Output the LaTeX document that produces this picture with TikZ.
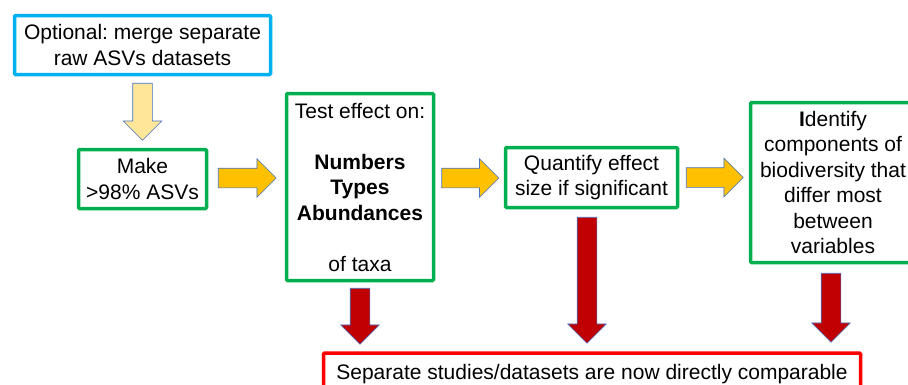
\documentclass[tikz,border=0pt]{standalone}
\usepackage{fontspec}
\setmainfont{Liberation Sans}
\usetikzlibrary{shapes.arrows}
\definecolor{cblue}{HTML}{00B0F0}
\definecolor{cgreen}{HTML}{00B050}
\definecolor{cred}{HTML}{FF0000}
\definecolor{corange}{HTML}{FFC000}
\definecolor{cyellow}{HTML}{FFE699}
\definecolor{cdred}{HTML}{C00000}
\definecolor{cedge}{HTML}{4472C4}
\frenchspacing
\begin{document}
\begin{tikzpicture}[x=1pt,y=-1pt,
  box/.style={draw, line width=3.5pt, rounded corners=1pt, align=center, inner sep=0pt,
    font=\fontsize{21}{25.5}\selectfont, text=black},
  bluebox/.style={box, draw=cblue},
  greenbox/.style={box, draw=cgreen},
  redbox/.style={box, draw=cred},
  blockarrow/.style={single arrow, draw=cedge, line width=0.6pt, minimum width=38pt,
    single arrow head extend=9.5pt, single arrow tip angle=90, inner xsep=0pt, inner ysep=9.5pt, outer sep=0pt},
  orarrow/.style={blockarrow, fill=corange},
  yarrow/.style={blockarrow, fill=cyellow, rotate=-90},
  rdarrow/.style={blockarrow, fill=cdred, rotate=-90}
]
\useasboundingbox (0,0) rectangle (908,384);

\node[bluebox, minimum width=256pt, minimum height=59pt] (opt) at (142.5,45)
  {Optional: merge separate\\raw ASVs datasets};
\node[greenbox, minimum width=128pt, minimum height=59pt] (make) at (142.5,179)
  {Make\\>98\% ASVs};
\node[greenbox, minimum width=147pt, minimum height=187pt] (test) at (360,187)
  {Test effect on:\\[25.5pt]\textbf{Numbers}\\\textbf{Types}\\\textbf{Abundances}\\[25.5pt]of taxa};
\node[greenbox, minimum width=172pt, minimum height=60pt] (quant) at (591.5,177.5)
  {Quantify effect\\size if significant};
\node[greenbox, minimum width=165pt, minimum height=160pt] (ident) at (833,182.5)
  {\textbf{I}dentify\\components of\\biodiversity that\\differ most\\between\\variables};
\node[redbox, minimum width=537pt, minimum height=42pt] (res) at (592,374)
  {Separate studies/datasets are now directly comparable};

% connectors
\node[yarrow, minimum height=57pt, anchor=tail] (a0) at ([yshift=-7pt]opt.south) {};
\node[orarrow, minimum height=58pt, anchor=tail] (a1) at ([xshift=10pt,yshift=1pt]make.east) {};
\node[orarrow, minimum height=57pt, anchor=tip] (a2) at ([xshift=-5pt,yshift=-0.5pt]quant.west) {};
\node[orarrow, minimum height=57pt, anchor=tail] (a3) at ([xshift=7pt]quant.east) {};
\node[rdarrow, minimum height=56pt, anchor=tail] (r1) at ([yshift=-6pt]test.south) {};
\node[rdarrow, minimum height=126pt, anchor=tail] (r2) at ([xshift=-4.5pt,yshift=-8pt]quant.south) {};
\node[rdarrow, minimum height=69pt, anchor=tail] (r3) at ([xshift=-2pt,yshift=-9pt]ident.south) {};
\end{tikzpicture}
\end{document}
